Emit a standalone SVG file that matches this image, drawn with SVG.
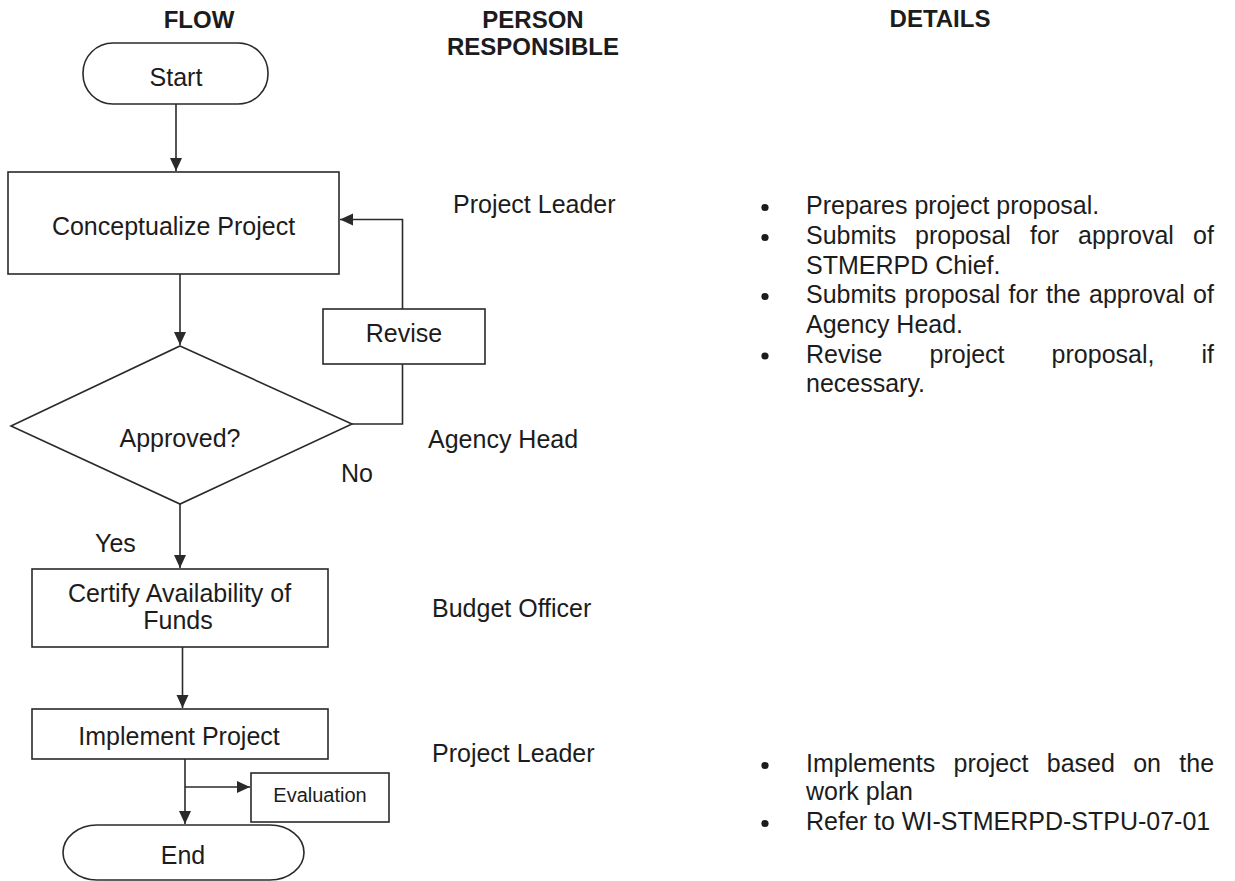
<svg xmlns="http://www.w3.org/2000/svg" width="1235" height="881" viewBox="0 0 1235 881">
<style>
text{font-family:"Liberation Sans",Arial,sans-serif;fill:#1c1c1c;font-size:25px}
.h{font-weight:bold;font-size:24px}
.m{text-anchor:middle}
.s{font-size:20px}
.box{fill:#fff;stroke:#2a2a2a;stroke-width:1.6}
.ln{fill:none;stroke:#2a2a2a;stroke-width:1.6}
.b{fill:#1c1c1c}
</style>
<defs>
<marker id="ah" markerUnits="userSpaceOnUse" markerWidth="14" markerHeight="14" viewBox="0 0 14 14" refX="13" refY="7" orient="auto">
<path d="M0,1 L13,7 L0,13 Z" fill="#2a2a2a"/>
</marker>
</defs>
<rect width="1235" height="881" fill="#fff"/>
<g id="headers">
<text class="h m" x="199" y="28">FLOW</text>
<text class="h m" x="533" y="28">PERSON</text>
<text class="h m" x="533" y="55">RESPONSIBLE</text>
<text class="h m" x="940" y="27">DETAILS</text>
</g>
<g id="connectors">
<path class="ln" d="M176,104 V171" marker-end="url(#ah)"/>
<path class="ln" d="M180,274 V345" marker-end="url(#ah)"/>
<path class="ln" d="M352,424 H402.5 V364"/>
<path class="ln" d="M402.5,309 V219.5 H340" marker-end="url(#ah)"/>
<path class="ln" d="M180,504 V568" marker-end="url(#ah)"/>
<path class="ln" d="M182.5,647 V708" marker-end="url(#ah)"/>
<path class="ln" d="M185,759 V824" marker-end="url(#ah)"/>
<path class="ln" d="M185,787 H250" marker-end="url(#ah)"/>
</g>
<g id="start">
<rect class="box" x="83" y="43" width="185" height="61" rx="30" ry="30"/>
<text class="m" x="176" y="86">Start</text>
</g>
<g id="conceptualize">
<rect class="box" x="8" y="172" width="331" height="102"/>
<text class="m" x="173.5" y="235">Conceptualize Project</text>
</g>
<g id="approved">
<polygon class="box" points="180,346 352,424 180,504 11,426"/>
<text class="m" x="180" y="447">Approved?</text>
</g>
<g id="revise">
<rect class="box" x="323" y="309" width="162" height="55"/>
<text class="m" x="404" y="342">Revise</text>
</g>
<g id="certify">
<rect class="box" x="32" y="569" width="296" height="78"/>
<text class="m" x="179.5" y="602">Certify Availability of</text>
<text class="m" x="178" y="629">Funds</text>
</g>
<g id="implement">
<rect class="box" x="32" y="709" width="296" height="50"/>
<text class="m" x="179" y="745">Implement Project</text>
</g>
<g id="evaluation">
<rect class="box" x="251" y="773" width="138" height="49"/>
<text class="m s" x="320" y="802">Evaluation</text>
</g>
<g id="end">
<rect class="box" x="63" y="825" width="241" height="55" rx="34" ry="27.5"/>
<text class="m" x="183" y="864">End</text>
</g>
<g id="labels">
<text x="341" y="482">No</text>
<text x="95" y="552">Yes</text>
</g>
<g id="persons">
<text x="453" y="213">Project Leader</text>
<text x="428" y="448">Agency Head</text>
<text x="432" y="617">Budget Officer</text>
<text x="432" y="762">Project Leader</text>
</g>
<g id="details">
<circle class="b" cx="765" cy="207.5" r="3.6"/>
<text x="806" y="214">Prepares project proposal.</text>
<circle class="b" cx="765" cy="237.5" r="3.6"/>
<text y="244"><tspan x="806">Submits</tspan><tspan x="915">proposal</tspan><tspan x="1030">for</tspan><tspan x="1078">approval</tspan><tspan x="1193">of</tspan></text>
<text x="806" y="273.5">STMERPD Chief.</text>
<circle class="b" cx="765" cy="296.5" r="3.6"/>
<text y="303"><tspan x="806">Submits</tspan><tspan x="904.5">proposal</tspan><tspan x="1008.6">for</tspan><tspan x="1046">the</tspan><tspan x="1089">approval</tspan><tspan x="1193.1">of</tspan></text>
<text x="806" y="332.5">Agency Head.</text>
<circle class="b" cx="765" cy="356" r="3.6"/>
<text y="362.5"><tspan x="806">Revise</tspan><tspan x="929.5">project</tspan><tspan x="1051.6">proposal,</tspan><tspan x="1201.5">if</tspan></text>
<text x="806" y="392">necessary.</text>
<circle class="b" cx="765" cy="765.5" r="3.6"/>
<text y="772"><tspan x="806">Implements</tspan><tspan x="953.5">project</tspan><tspan x="1046.8">based</tspan><tspan x="1133.2">on</tspan><tspan x="1179.3">the</tspan></text>
<text x="806" y="800">work plan</text>
<circle class="b" cx="765" cy="823.5" r="3.6"/>
<text x="806" y="830">Refer to WI-STMERPD-STPU-07-01</text>
</g>
</svg>
